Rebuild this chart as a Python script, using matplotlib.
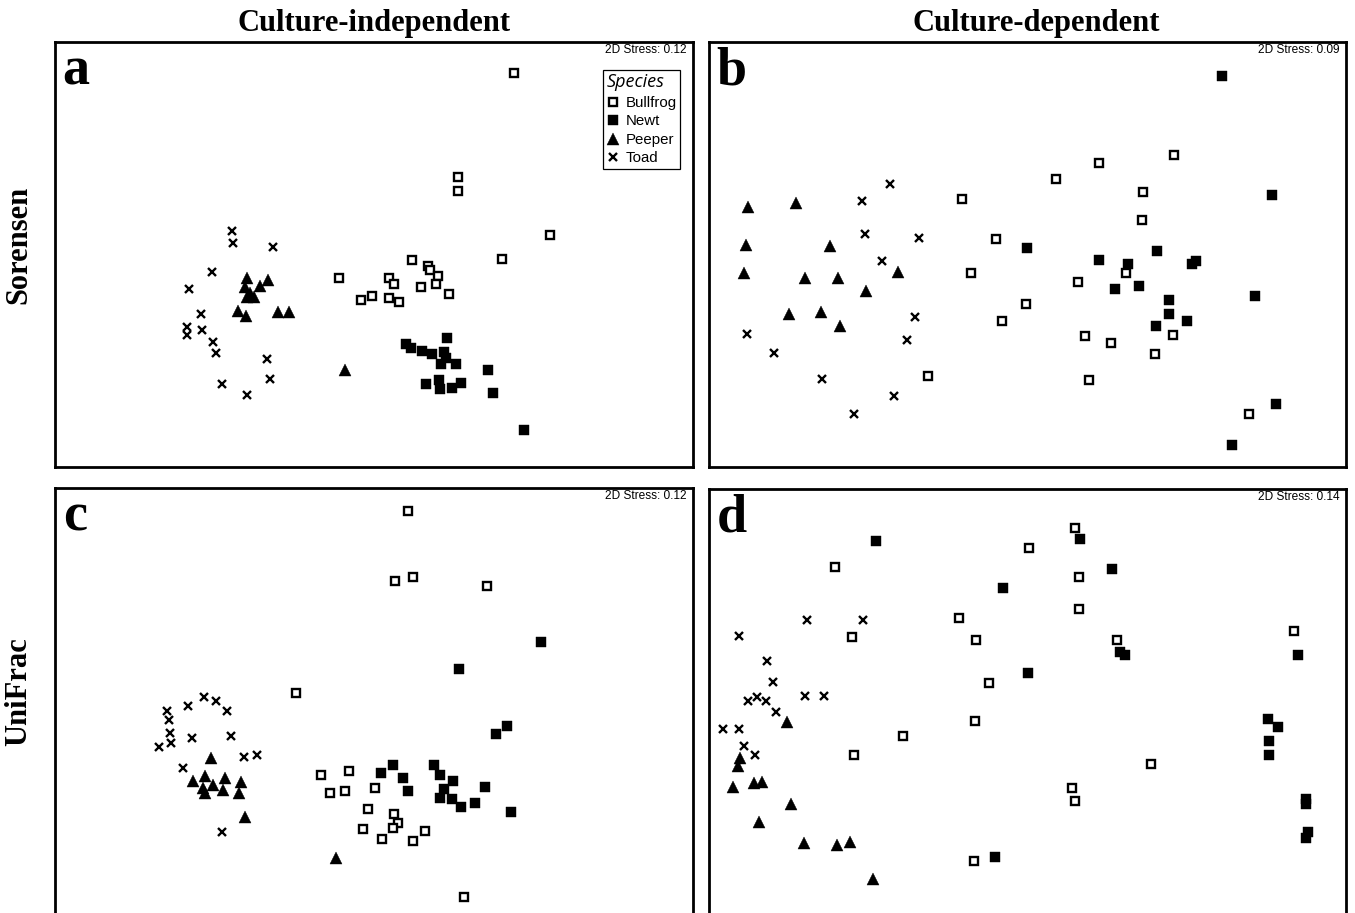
import matplotlib
matplotlib.use("Agg")
from matplotlib import pyplot as plt
from matplotlib.lines import Line2D

# NMDS coordinates (arbitrary units)
# panel a: Sorensen, culture-independent
a_bullfrog = [(-0.35, -0.23), (-0.13, -0.45), (-0.02, -0.41), (1.40, 1.82), (0.84, 0.78),
              (0.84, 0.64), (1.76, 0.20), (1.28, -0.04), (0.38, -0.05), (0.54, -0.11),
              (0.56, -0.15), (0.64, -0.21), (0.15, -0.23), (0.20, -0.29), (0.47, -0.32),
              (0.62, -0.29), (0.75, -0.39), (0.15, -0.43), (0.25, -0.47)]
a_newt = [(0.73, -0.83), (0.32, -0.89), (0.37, -0.93), (0.48, -0.96), (0.58, -0.99),
          (0.70, -0.97), (0.72, -1.03), (0.67, -1.09), (0.82, -1.09), (1.14, -1.15),
          (0.52, -1.29), (0.65, -1.25), (0.66, -1.34), (0.78, -1.33), (0.87, -1.28),
          (1.19, -1.38), (1.50, -1.75)]
a_peeper = [(-1.27, -0.23), (-1.06, -0.25), (-1.14, -0.31), (-1.29, -0.32), (-1.24, -0.38),
            (-1.27, -0.42), (-1.20, -0.42), (-1.36, -0.56), (-1.28, -0.61), (-0.96, -0.57),
            (-0.85, -0.57), (-0.29, -1.15)]
a_toad = [(-1.42, 0.24), (-1.41, 0.12), (-1.01, 0.08), (-1.62, -0.17), (-1.85, -0.34),
          (-1.73, -0.59), (-1.87, -0.72), (-1.87, -0.80), (-1.72, -0.75), (-1.61, -0.87),
          (-1.58, -0.98), (-1.07, -1.04), (-1.04, -1.24), (-1.52, -1.29), (-1.27, -1.40)]

# panel b: Sorensen, culture-dependent
b_bullfrog = [(-0.65, 0.56), (-0.31, 0.16), (-0.56, -0.18), (-0.25, -0.66), (-0.99, -1.21),
              (-0.01, -0.49), (1.47, 1.00), (0.72, 0.92), (0.29, 0.76), (1.16, 0.63),
              (1.15, 0.35), (0.51, -0.27), (0.99, -0.18), (0.58, -0.81), (0.84, -0.88),
              (1.46, -0.80), (1.28, -0.99), (0.62, -1.25), (2.22, -1.59)]
b_newt = [(1.95, 1.79), (2.45, 0.60), (0.00, 0.07), (1.30, 0.04), (0.72, -0.05),
          (1.01, -0.09), (1.65, -0.09), (1.69, -0.06), (0.88, -0.34), (1.12, -0.31),
          (1.42, -0.45), (1.42, -0.59), (1.60, -0.66), (1.29, -0.71), (2.28, -0.41),
          (2.49, -1.49), (2.05, -1.90)]
b_peeper = [(-2.79, 0.48), (-2.31, 0.52), (-2.81, 0.10), (-1.97, 0.09), (-2.83, -0.18),
            (-2.22, -0.23), (-1.89, -0.23), (-1.29, -0.17), (-1.61, -0.36), (-2.38, -0.59),
            (-2.06, -0.57), (-1.87, -0.71)]
b_toad = [(-1.37, 0.71), (-1.65, 0.54), (-1.62, 0.21), (-1.08, 0.17), (-1.45, -0.06),
          (-1.12, -0.62), (-1.20, -0.85), (-2.80, -0.79), (-2.53, -0.98), (-2.05, -1.24),
          (-1.33, -1.41), (-1.73, -1.59)]

# panel c: UniFrac, culture-independent
c_bullfrog = [(0.34, 1.89), (0.21, 1.19), (0.39, 1.23), (1.13, 1.14), (-0.78, 0.07),
              (-0.53, -0.75), (-0.25, -0.71), (-0.44, -0.93), (-0.29, -0.91), (0.01, -0.88),
              (-0.06, -1.09), (0.20, -1.14), (0.24, -1.23), (0.19, -1.28), (-0.11, -1.29),
              (0.08, -1.39), (0.39, -1.41), (0.51, -1.31), (0.90, -1.97)]
c_newt = [(1.67, 0.58), (0.85, 0.31), (1.33, -0.26), (1.22, -0.34), (0.19, -0.65),
          (0.07, -0.73), (0.29, -0.78), (0.34, -0.91), (0.60, -0.65), (0.66, -0.75),
          (0.79, -0.81), (0.70, -0.89), (0.66, -0.98), (0.78, -0.99), (0.87, -1.07),
          (1.01, -1.03), (1.11, -0.87), (1.37, -1.12)]
c_peeper = [(-1.63, -0.58), (-1.81, -0.81), (-1.69, -0.76), (-1.49, -0.78), (-1.33, -0.82),
            (-1.61, -0.85), (-1.71, -0.88), (-1.69, -0.93), (-1.51, -0.90), (-1.35, -0.93),
            (-1.29, -1.17), (-0.38, -1.58)]
c_toad = [(-1.70, 0.03), (-1.58, -0.01), (-1.86, -0.06), (-2.07, -0.11), (-1.47, -0.11),
          (-2.05, -0.20), (-2.04, -0.33), (-2.03, -0.43), (-2.15, -0.47), (-1.82, -0.38),
          (-1.43, -0.36), (-1.30, -0.57), (-1.17, -0.55), (-1.91, -0.68), (-1.52, -1.32)]

# panel d: UniFrac, culture-dependent
d_bullfrog = [(-1.92, 1.33), (-0.68, 0.82), (-1.75, 0.63), (-0.51, 0.60), (-0.38, 0.17),
              (-0.52, -0.21), (-1.24, -0.36), (-1.73, -0.55), (-0.53, -1.61), (0.02, 1.52),
              (0.48, 1.72), (0.52, 1.23), (0.52, 0.91), (0.90, 0.60), (2.67, 0.69),
              (1.24, -0.64), (0.45, -0.88), (0.48, -1.01)]
d_newt = [(-1.51, 1.59), (-0.24, 1.12), (-0.32, -1.57), (0.01, 0.27), (0.53, 1.61),
          (0.85, 1.31), (0.93, 0.48), (0.98, 0.45), (2.71, 0.45), (2.41, -0.19),
          (2.51, -0.27), (2.42, -0.41), (2.42, -0.55), (2.79, -0.99), (2.79, -1.04),
          (2.81, -1.32), (2.79, -1.38)]
d_peeper = [(-2.40, -0.22), (-2.87, -0.58), (-2.89, -0.66), (-2.94, -0.87), (-2.73, -0.83),
            (-2.65, -0.82), (-2.36, -1.04), (-2.68, -1.22), (-2.23, -1.43), (-1.90, -1.45),
            (-1.77, -1.42), (-1.54, -1.79)]
d_toad = [(-2.20, 0.80), (-1.64, 0.80), (-2.88, 0.64), (-2.60, 0.39), (-2.54, 0.18),
          (-2.79, -0.01), (-2.70, 0.03), (-2.61, -0.01), (-2.51, -0.12), (-2.22, 0.04),
          (-2.03, 0.04), (-3.04, -0.29), (-2.88, -0.29), (-2.83, -0.46), (-2.72, -0.55)]

species = ['Bullfrog', 'Newt', 'Peeper', 'Toad']
stress = {'a': 0.12, 'b': 0.09, 'c': 0.12, 'd': 0.14}
col_titles = ['Culture-independent', 'Culture-dependent']
row_titles = ['Sorensen', 'UniFrac']

panels = {
    'a': [a_bullfrog, a_newt, a_peeper, a_toad],
    'b': [b_bullfrog, b_newt, b_peeper, b_toad],
    'c': [c_bullfrog, c_newt, c_peeper, c_toad],
    'd': [d_bullfrog, d_newt, d_peeper, d_toad],
}

# marker look per species
styles = {
    'Bullfrog': dict(marker='s', ms=5.8, mfc='white', mec='black', mew=1.7),
    'Newt': dict(marker='s', ms=7.3, mfc='black', mec='black', mew=0.3),
    'Peeper': dict(marker='^', ms=8.0, mfc='black', mec='black', mew=0.3),
    'Toad': dict(marker='x', ms=6.2, mfc='black', mec='black', mew=1.7),
}

W, H = 1355, 913
fig = plt.figure(figsize=(W / 100, H / 100), dpi=100)

# panel boxes in pixels: left, top, right, bottom
boxes = {'a': (55, 42, 693, 467), 'b': (709, 42, 1346, 467),
         'c': (55, 488, 693, 915), 'd': (709, 489, 1346, 915)}
limits = {'a': ((-3.19, 3.19), (-2.12, 2.13)), 'b': ((-3.18, 3.19), (-2.12, 2.13)),
          'c': ((-3.19, 3.19), (-2.15, 2.12)), 'd': ((-3.18, 3.19), (-2.15, 2.11))}

serif = 'Liberation Serif'
sans = 'Liberation Sans'

for key, groups in panels.items():
    l, t, r, b = boxes[key]
    ax = fig.add_axes([l / W, 1 - b / H, (r - l) / W, (b - t) / H])
    for name, pts in zip(species, groups):
        xs = [p[0] for p in pts]
        ys = [p[1] for p in pts]
        ax.plot(xs, ys, ls='none', label=name, **styles[name])
    ax.set_xlim(*limits[key][0])
    ax.set_ylim(*limits[key][1])
    ax.set_xticks([])
    ax.set_yticks([])
    for sp in ax.spines.values():
        sp.set_linewidth(2.0)
    ax.text(0.012, 0.9, key, transform=ax.transAxes, fontsize=39,
            fontweight='bold', family=serif, ha='left', va='baseline')
    ax.text(0.99, 0.982, '2D Stress: %.2f' % stress[key], transform=ax.transAxes,
            fontsize=8.6, family=sans, ha='right', va='center')
    if key == 'a':
        handles = [Line2D([], [], ls='none', **styles[n]) for n in species]
        leg = ax.legend(handles, species, loc='upper right', bbox_to_anchor=(0.98, 0.935),
                        title='Species', frameon=True, fancybox=False, edgecolor='black',
                        framealpha=1, borderpad=0.25, handlelength=0.8, handletextpad=0.45,
                        labelspacing=0.3, borderaxespad=0,
                        prop={'family': sans, 'size': 10.8},
                        title_fontproperties={'family': 'Open Sans', 'style': 'italic', 'size': 13})
        leg.get_frame().set_linewidth(0.9)
        leg._legend_box.align = 'left'

# column and row headings
fig.text(374 / W, 1 - 31 / H, col_titles[0], fontsize=22, fontweight='bold',
         family=serif, ha='center', va='baseline')
fig.text(1036 / W, 1 - 31 / H, col_titles[1], fontsize=22, fontweight='bold',
         family=serif, ha='center', va='baseline')
fig.text(19 / W, 1 - 245 / H, row_titles[0], fontsize=22, fontweight='bold',
         family=serif, ha='center', va='center', rotation=90)
fig.text(19 / W, 1 - 692 / H, row_titles[1], fontsize=22, fontweight='bold',
         family=serif, ha='center', va='center', rotation=90)

fig.savefig('out.png', dpi=100)
